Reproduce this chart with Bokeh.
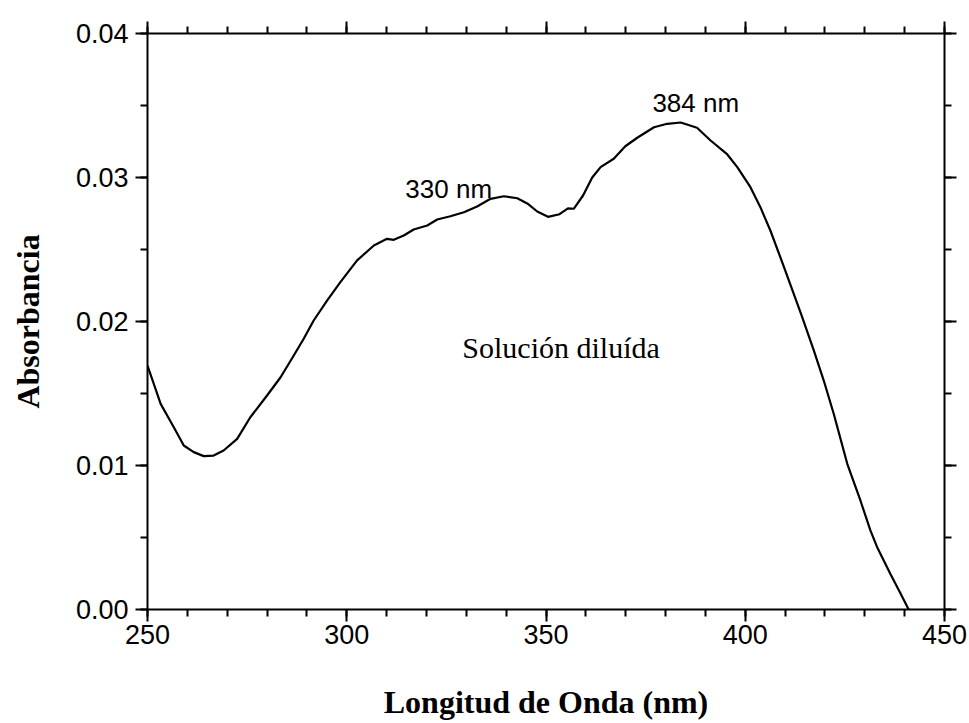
from bokeh.plotting import figure
from bokeh.models import Range1d, LinearAxis, SingleIntervalTicker, PrintfTickFormatter, Label
from bokeh.embed import file_html
from bokeh.resources import INLINE

# Data
wavelength = [250, 253.3, 256.6, 259.1, 261.6, 264.1, 266.6, 269.1, 272.5, 275.8,
              280.0, 283.4, 286.7, 289.2, 291.7, 295.1, 298.4, 302.6, 306.8, 310.1,
              311.8, 314.3, 316.8, 320.2, 322.7, 326.0, 329.4, 332.7, 336.1, 339.4,
              342.8, 345.3, 347.8, 350.5, 353.4, 355.5, 357.0, 359.3, 361.6, 363.7,
              367.0, 369.9, 372.9, 376.2, 377.1, 380.4, 383.8, 387.9, 391.3, 395.5,
              398.0, 401.3, 403.8, 406.3, 409.7, 414.0, 417.2, 419.7, 422.2, 425.6,
              428.9, 431.4, 433.1, 436.4, 439.0, 441.0]
absorbance = [0.01694, 0.01428, 0.01266, 0.01139, 0.01093, 0.01065, 0.01069, 0.01104, 0.01185, 0.01335,
              0.01486, 0.01613, 0.01764, 0.01880, 0.02007, 0.02146, 0.02273, 0.02424, 0.02528, 0.02574,
              0.02567, 0.02597, 0.02639, 0.02667, 0.02708, 0.02731, 0.02759, 0.02799, 0.02852, 0.02870,
              0.02856, 0.02820, 0.02764, 0.02727, 0.02745, 0.02786, 0.02783, 0.02875, 0.03000, 0.03072,
              0.03130, 0.03217, 0.03276, 0.03333, 0.03349, 0.03373, 0.03382, 0.03345, 0.03257, 0.03160,
              0.03072, 0.02933, 0.02794, 0.02632, 0.02380, 0.02053, 0.01799, 0.01590, 0.01359, 0.01012,
              0.00757, 0.00549, 0.00433, 0.00248, 0.00109, 0.0]

annotations = ["330 nm", "384 nm", "Solución diluída"]
ann_x = [314.7, 376.7, 329.0]
ann_y = [0.02920, 0.03516, 0.01818]

p = figure(width=969, height=723, x_range=Range1d(250, 450), y_range=Range1d(0, 0.04),
           output_backend="svg", toolbar_location=None,
           min_border_left=147, min_border_right=25, min_border_top=33, min_border_bottom=114,
           x_axis_label="Longitud de Onda (nm)", y_axis_label="Absorbancia")
p.outline_line_color = None
p.background_fill_color = "white"
p.border_fill_color = "white"
p.xgrid.visible = False
p.ygrid.visible = False

p.line(wavelength, absorbance, line_color="black", line_width=2.2)

def style(ax, show_labels):
    ax.axis_line_width = 2
    ax.axis_line_color = "black"
    ax.major_tick_line_width = 2
    ax.minor_tick_line_width = 2
    ax.major_tick_line_color = "black"
    ax.minor_tick_line_color = "black"
    ax.major_tick_out = 12
    ax.major_tick_in = 0
    ax.minor_tick_out = 7
    ax.minor_tick_in = 0
    ax.major_label_text_font = "Liberation Sans"
    ax.major_label_text_font_size = "27px"
    ax.major_label_text_color = "black"
    ax.axis_label_text_font = "Liberation Serif"
    ax.axis_label_text_font_style = "bold"
    ax.axis_label_text_font_size = "32px"
    ax.axis_label_text_color = "black"
    if not show_labels:
        ax.major_label_text_font_size = "0px"
        ax.major_label_text_alpha = 0

xt = SingleIntervalTicker(interval=50, num_minor_ticks=5)
yt = SingleIntervalTicker(interval=0.01, num_minor_ticks=2)

xa = p.xaxis[0]
xa.ticker = xt
xa.formatter = PrintfTickFormatter(format="%d")
style(xa, True)
xa.major_label_standoff = 3
xa.axis_label_standoff = 37

ya = p.yaxis[0]
ya.ticker = yt
ya.formatter = PrintfTickFormatter(format="%.2f")
style(ya, True)
ya.major_label_standoff = 7
ya.axis_label_standoff = 27

top = LinearAxis(ticker=SingleIntervalTicker(interval=50, num_minor_ticks=5))
style(top, False)
p.add_layout(top, "above")
right = LinearAxis(ticker=SingleIntervalTicker(interval=0.01, num_minor_ticks=2))
style(right, False)
p.add_layout(right, "right")

fonts = ["Liberation Sans", "Liberation Sans", "Liberation Serif"]
sizes = ["26px", "26px", "30px"]
for t, x, y, f, s in zip(annotations, ann_x, ann_y, fonts, sizes):
    p.add_layout(Label(x=x, y=y, text=t, text_font=f, text_font_size=s,
                       text_color="black", text_align="left", text_baseline="alphabetic"))

open("out.html", "w").write(file_html(p, INLINE))
